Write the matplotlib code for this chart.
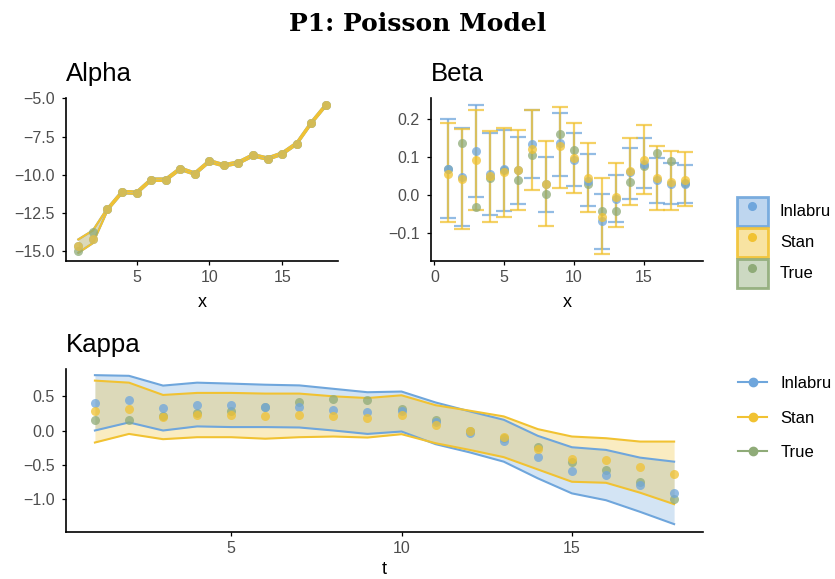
import numpy as np
import matplotlib
matplotlib.use('Agg')
import matplotlib.pyplot as plt
from matplotlib.patches import Patch
from matplotlib.lines import Line2D
from matplotlib.legend_handler import HandlerTuple
from matplotlib.colors import to_rgba

# colours
c_inla = '#6fa6dc'
c_stan = '#f1c232'
c_true = '#8fab78'

x = np.arange(1, 19)

# Alpha
alpha_true = [-14.96, -13.75, -12.26, -11.13, -11.17, -10.32, -10.32, -9.60, -9.92,
              -9.11, -9.38, -9.20, -8.72, -8.94, -8.61, -7.95, -6.60, -5.44]
alpha_inla = [-14.63, -14.19, -12.26, -11.13, -11.17, -10.32, -10.32, -9.60, -9.92,
              -9.11, -9.38, -9.20, -8.72, -8.94, -8.61, -7.95, -6.60, -5.44]
alpha_stan = [-14.63, -14.19, -12.26, -11.13, -11.17, -10.32, -10.32, -9.60, -9.92,
              -9.11, -9.38, -9.20, -8.72, -8.94, -8.61, -7.95, -6.60, -5.44]
alpha_lo = [-15.10, -14.47, -12.34, -11.21, -11.25, -10.40, -10.40, -9.68, -10.00,
            -9.19, -9.46, -9.28, -8.80, -9.02, -8.69, -8.03, -6.68, -5.52]
alpha_hi = [-14.23, -13.64, -12.18, -11.05, -11.09, -10.24, -10.24, -9.52, -9.84,
            -9.03, -9.30, -9.12, -8.64, -8.86, -8.53, -7.87, -6.52, -5.36]

# Beta
beta_true = [0.070, 0.137, -0.031, 0.044, 0.066, 0.040, 0.107, 0.004, 0.161,
             0.119, 0.029, -0.041, -0.041, 0.035, 0.077, 0.110, 0.091, 0.033]
beta_inla = [0.070, 0.048, 0.116, 0.057, 0.069, 0.066, 0.135, 0.029, 0.137,
             0.094, 0.038, -0.069, -0.011, 0.060, 0.081, 0.040, 0.029, 0.029]
beta_inla_lo = [-0.060, -0.082, -0.004, -0.051, -0.041, -0.024, 0.044, -0.045, 0.051,
                0.025, -0.028, -0.141, -0.070, -0.011, 0.018, -0.020, -0.024, -0.020]
beta_inla_hi = [0.200, 0.178, 0.238, 0.163, 0.172, 0.154, 0.226, 0.101, 0.218,
                0.163, 0.108, 0.004, 0.053, 0.125, 0.152, 0.099, 0.084, 0.079]
beta_stan = [0.057, 0.042, 0.092, 0.051, 0.062, 0.066, 0.121, 0.029, 0.130,
             0.099, 0.046, -0.057, -0.004, 0.063, 0.092, 0.044, 0.035, 0.040]
beta_stan_lo = [-0.072, -0.088, -0.038, -0.070, -0.057, -0.040, 0.013, -0.081, 0.019,
                0.007, -0.044, -0.154, -0.084, -0.025, 0.003, -0.038, -0.040, -0.029]
beta_stan_hi = [0.191, 0.174, 0.225, 0.169, 0.176, 0.172, 0.226, 0.143, 0.233,
                0.191, 0.137, 0.046, 0.086, 0.152, 0.185, 0.130, 0.117, 0.114]

# Kappa
kappa_true = [0.157, 0.147, 0.206, 0.255, 0.29, 0.35, 0.417, 0.466, 0.45,
              0.32, 0.147, 0.0, -0.11, -0.245, -0.466, -0.578, -0.75, -1.005]
kappa_inla = [0.40, 0.45, 0.33, 0.38, 0.37, 0.35, 0.35, 0.30, 0.265,
              0.29, 0.118, -0.03, -0.16, -0.39, -0.59, -0.657, -0.80, -0.91]
kappa_inla_lo = [0.0, 0.118, 0.0, 0.06, 0.05, 0.05, 0.044, 0.0, -0.05,
                 -0.015, -0.20, -0.32, -0.456, -0.70, -0.92, -1.02, -1.19, -1.37]
kappa_inla_hi = [0.81, 0.80, 0.657, 0.70, 0.686, 0.67, 0.66, 0.61, 0.56,
                 0.57, 0.41, 0.28, 0.157, -0.078, -0.245, -0.284, -0.397, -0.456]
kappa_stan = [0.28, 0.32, 0.196, 0.23, 0.22, 0.216, 0.23, 0.206, 0.18,
              0.23, 0.074, 0.0, -0.088, -0.27, -0.417, -0.43, -0.54, -0.637]
kappa_stan_lo = [-0.176, -0.05, -0.127, -0.098, -0.098, -0.12, -0.098, -0.088, -0.103,
                 -0.054, -0.186, -0.284, -0.39, -0.57, -0.75, -0.765, -0.91, -1.078]
kappa_stan_hi = [0.73, 0.70, 0.52, 0.55, 0.55, 0.54, 0.54, 0.50, 0.475,
                 0.515, 0.37, 0.29, 0.206, 0.02, -0.088, -0.113, -0.162, -0.162]

plt.rcParams['font.family'] = ['Liberation Sans', 'DejaVu Sans']

fig = plt.figure(figsize=(8.35, 5.79), dpi=100)
ax1 = fig.add_axes([0.079, 0.549, 0.326, 0.2815])
ax2 = fig.add_axes([0.516, 0.549, 0.326, 0.2815])
ax3 = fig.add_axes([0.079, 0.0812, 0.763, 0.2815])

def style(ax, xlabel, lpad=6.5):
    for s in ['top', 'right']:
        ax.spines[s].set_visible(False)
    for s in ['left', 'bottom']:
        ax.spines[s].set_linewidth(1.2)
    ax.tick_params(length=2.7, width=0.9, labelsize=11.5, labelcolor='#4d4d4d')
    ax.tick_params(axis='x', pad=3.6)
    ax.tick_params(axis='y', pad=5.5)
    ax.set_xlabel(xlabel, fontsize=13, labelpad=lpad)

def ribbon(ax, lo, hi, col):
    ax.fill_between(x, lo, hi, color=col, alpha=0.3, lw=0)
    ax.plot(x, lo, color=col, lw=1.5)
    ax.plot(x, hi, color=col, lw=1.5)

pt = dict(ms=6.5, alpha=0.75, ls='none', marker='o', mew=0)

# Alpha panel
ribbon(ax1, alpha_lo, alpha_hi, c_inla)
ribbon(ax1, alpha_lo, alpha_hi, c_stan)
ax1.plot(x, alpha_true, color=c_true, **pt)
ax1.plot(x, alpha_inla, color=c_inla, **pt)
ax1.plot(x, alpha_stan, color=c_stan, **pt)
ax1.set_xlim(0.15, 18.85)
ax1.set_ylim(-15.65, -4.98)
ax1.set_xticks([5, 10, 15])
ax1.set_yticks([-5.0, -7.5, -10.0, -12.5, -15.0])
ax1.set_yticklabels(['\u22125.0', '\u22127.5', '\u221210.0', '\u221212.5', '\u221215.0'])
ax1.set_title('Alpha', loc='left', fontsize=18.5, pad=12)
style(ax1, 'x')

# Beta panel
eb = dict(fmt='none', capsize=5.8, elinewidth=1.6, capthick=1.6, alpha=0.75)
ax2.errorbar(x, beta_inla, yerr=[np.subtract(beta_inla, beta_inla_lo), np.subtract(beta_inla_hi, beta_inla)],
             ecolor=c_inla, **eb)
ax2.errorbar(x, beta_stan, yerr=[np.subtract(beta_stan, beta_stan_lo), np.subtract(beta_stan_hi, beta_stan)],
             ecolor=c_stan, **eb)
ax2.plot(x, beta_true, color=c_true, **pt)
ax2.plot(x, beta_inla, color=c_inla, **pt)
ax2.plot(x, beta_stan, color=c_stan, **pt)
ax2.set_xlim(-0.26, 19.27)
ax2.set_ylim(-0.174, 0.256)
ax2.set_xticks([0, 5, 10, 15])
ax2.set_yticks([-0.1, 0.0, 0.1, 0.2])
ax2.set_yticklabels(['\u22120.1', '0.0', '0.1', '0.2'])
ax2.set_title('Beta', loc='left', fontsize=18.5, pad=12)
style(ax2, 'x')

# Kappa panel
ribbon(ax3, kappa_inla_lo, kappa_inla_hi, c_inla)
ribbon(ax3, kappa_stan_lo, kappa_stan_hi, c_stan)
ax3.plot(x, kappa_true, color=c_true, **pt)
ax3.plot(x, kappa_inla, color=c_inla, **pt)
ax3.plot(x, kappa_stan, color=c_stan, **pt)
ax3.set_xlim(0.15, 18.85)
ax3.set_ylim(-1.485, 0.90)
ax3.set_xticks([5, 10, 15])
ax3.set_yticks([0.5, 0.0, -0.5, -1.0])
ax3.set_yticklabels(['0.5', '0.0', '\u22120.5', '\u22121.0'])
ax3.set_title('Kappa', loc='left', fontsize=18.5, pad=12)
style(ax3, 't', lpad=3.5)

fig.text(0.5, 1 - 30.7 / 579, 'P1: Poisson Model', fontsize=18, fontweight='bold',
         family=['DejaVu Serif'], ha='center', va='baseline')

names = ['Inlabru', 'Stan', 'True']
cols = [c_inla, c_stan, c_true]

# legend with filled boxes
box_handles = [(Patch(facecolor=to_rgba(c, 0.45), edgecolor=to_rgba(c, 0.9), lw=2),
                Line2D([], [], marker='o', ls='none', color=c, ms=5.5))
               for c in cols]
fig.legend(box_handles, names, loc='center left', bbox_to_anchor=(0.8826, 0.582),
           handler_map={tuple: HandlerTuple(ndivide=1, pad=0)},
           frameon=False, fontsize=12, handlelength=1.86, handleheight=2.3,
           labelspacing=0.12, handletextpad=0.72, borderpad=0, borderaxespad=0)

# legend with lines
line_handles = [Line2D([], [], color=c, lw=1.5, marker='o', ms=6) for c in cols]
fig.legend(line_handles, names, loc='center left', bbox_to_anchor=(0.8838, 0.278),
           frameon=False, fontsize=12, handlelength=1.75,
           labelspacing=1.18, handletextpad=0.8, borderpad=0, borderaxespad=0)

fig.savefig('out.png', dpi=100)
